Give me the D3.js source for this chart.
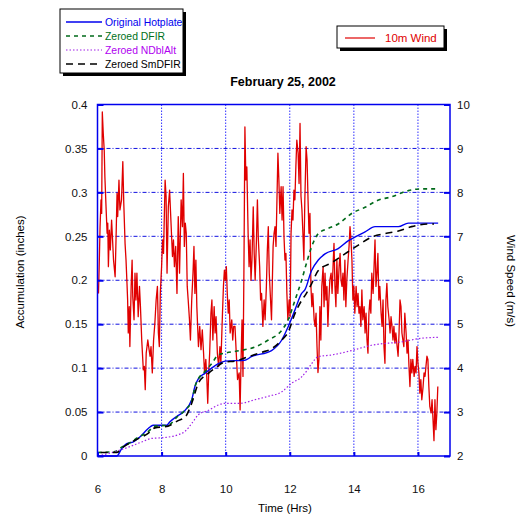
<!DOCTYPE html>
<html lang="en">
<head>
    <meta charset="UTF-8">
    <title>February 25, 2002</title>
    <script src="https://cdn.jsdelivr.net/npm/d3@7/dist/d3.min.js"></script>
    <style>
        body {
            margin: 0;
            background: #fff;
        }

        svg text {
            font-family: "Liberation Sans", Arial, sans-serif;
        }

        .axis path {
            display: none;
        }

        .axis line {
            stroke: #0000ee;
            stroke-width: 2px;
        }

        .axis text {
            font-size: 11.5px;
            fill: #111;
        }
    </style>
</head>
<body>
<svg id="chart" width="520" height="514"></svg>
<script>
    // accumulation series, [hour, inches]
    var hotplate = [[6.0, 0], [6.6, 0], [6.75, 0.008], [6.91, 0.014], [7.12, 0.016], [7.33, 0.022], [7.64, 0.033],
        [7.74, 0.035], [8.16, 0.035], [8.26, 0.039], [8.47, 0.045], [8.68, 0.05], [8.94, 0.064], [9.04, 0.079],
        [9.15, 0.088], [9.35, 0.094], [9.56, 0.1], [9.77, 0.105], [9.98, 0.108], [10.6, 0.109], [10.8, 0.113],
        [11.43, 0.12], [11.75, 0.132], [11.95, 0.147], [12.16, 0.166], [12.37, 0.185], [12.47, 0.189],
        [12.68, 0.211], [12.89, 0.223], [13.1, 0.23], [13.51, 0.236], [13.83, 0.245], [14.03, 0.249],
        [14.35, 0.255], [14.66, 0.261], [15.39, 0.261], [15.7, 0.265], [16.63, 0.265]];

    var dfir = [[6.0, 0.004], [6.55, 0.005], [6.75, 0.01], [6.96, 0.014], [7.17, 0.019], [7.59, 0.028],
        [7.79, 0.034], [8.2, 0.035], [8.5, 0.045], [8.73, 0.052], [8.95, 0.064], [9.05, 0.08], [9.15, 0.088],
        [9.35, 0.096], [9.56, 0.105], [9.77, 0.115], [9.98, 0.117], [10.45, 0.12], [10.91, 0.124],
        [11.33, 0.132], [11.75, 0.143], [11.95, 0.155], [12.16, 0.177], [12.37, 0.2], [12.55, 0.223],
        [12.68, 0.238], [12.89, 0.253], [13.2, 0.259], [13.51, 0.264], [13.93, 0.276], [14.35, 0.283],
        [14.75, 0.291], [15.18, 0.295], [15.7, 0.302], [16.11, 0.304], [16.63, 0.304]];

    var ndblalt = [[6.13, 0.001], [6.55, 0.005], [6.96, 0.01], [7.38, 0.016], [7.69, 0.02], [8.1, 0.021],
        [8.5, 0.024], [8.73, 0.028], [8.94, 0.037], [9.15, 0.047], [9.46, 0.052], [9.77, 0.058], [9.98, 0.06],
        [10.45, 0.06], [10.91, 0.064], [11.33, 0.068], [11.75, 0.073], [12.06, 0.083], [12.37, 0.09],
        [12.55, 0.098], [12.68, 0.105], [12.89, 0.113], [13.31, 0.115], [13.93, 0.12], [14.55, 0.126],
        [15.5, 0.13], [16.11, 0.134], [16.63, 0.135]];

    var smdfir = [[6.1, 0.004], [6.6, 0.004], [6.8, 0.01], [6.96, 0.014], [7.17, 0.018], [7.59, 0.026],
        [7.79, 0.032], [8.2, 0.034], [8.5, 0.04], [8.75, 0.045], [8.94, 0.06], [9.15, 0.083], [9.46, 0.094],
        [9.67, 0.1], [9.98, 0.107], [10.3, 0.108], [10.71, 0.113], [11.12, 0.118], [11.43, 0.122],
        [11.75, 0.132], [11.95, 0.141], [12.16, 0.162], [12.37, 0.177], [12.5, 0.184], [12.68, 0.196],
        [12.89, 0.211], [13.31, 0.22], [13.72, 0.23], [14.14, 0.24], [14.55, 0.249], [14.97, 0.253],
        [15.39, 0.256], [15.8, 0.261], [16.32, 0.264], [16.5, 0.264]];

    // 10m wind, [hour, m/s]
    var wind = [[6.03, 5.70], [6.05, 6.23], [6.08, 7.22], [6.11, 7.83], [6.13, 7.52], [6.15, 9.83], [6.18, 9.34],
        [6.21, 8.96], [6.23, 8.36], [6.27, 7.6], [6.30, 7.07], [6.32, 7.3], [6.34, 6.31], [6.37, 7.14], [6.40, 6.69],
        [6.44, 7.37], [6.47, 6.92], [6.50, 6.46], [6.55, 6.08], [6.58, 6.99], [6.61, 7.98], [6.63, 7.45],
        [6.67, 8.28], [6.70, 7.6], [6.75, 7.83], [6.79, 8.7], [6.82, 7.75], [6.86, 6.84], [6.89, 6.46],
        [6.92, 5.93], [6.94, 5.55], [6.96, 4.8], [6.99, 5.4], [7.01, 4.49], [7.05, 5.86], [7.08, 6.46],
        [7.10, 5.63], [7.14, 5.1], [7.17, 6.16], [7.20, 5.55], [7.23, 6.16], [7.27, 5.17], [7.31, 5.86],
        [7.34, 5.4], [7.38, 4.64], [7.43, 3.96], [7.46, 4.04], [7.49, 3.51], [7.52, 4.34], [7.57, 4.64],
        [7.61, 4.42], [7.64, 4.27], [7.67, 4.49], [7.71, 3.89], [7.75, 4.64], [7.79, 5.02], [7.83, 5.55],
        [7.87, 5.86], [7.90, 4.8], [7.93, 4.49], [7.96, 5.7], [8.00, 6.31], [8.03, 6.92], [8.06, 6.61],
        [8.11, 8.28], [8.14, 7.91], [8.17, 6.16], [8.21, 7.67], [8.25, 8.05], [8.29, 7.37], [8.34, 6.54],
        [8.37, 6.92], [8.40, 6.31], [8.44, 6.77], [8.48, 5.70], [8.52, 7.45], [8.56, 6.16], [8.61, 7.83],
        [8.65, 7.22], [8.68, 8.43], [8.71, 6.77], [8.74, 7.3], [8.77, 7.07], [8.80, 5.86], [8.83, 5.55],
        [8.87, 5.1], [8.90, 4.64], [8.94, 5.55], [8.98, 6.16], [9.01, 6.77], [9.04, 5.70], [9.07, 6.46],
        [9.10, 5.4], [9.15, 4.49], [9.19, 4.95], [9.23, 4.42], [9.27, 4.87], [9.31, 4.34], [9.34, 3.89],
        [9.38, 4.2], [9.41, 3.81], [9.44, 3.2], [9.47, 3.89], [9.50, 4.34], [9.54, 5.25], [9.57, 5.55],
        [9.60, 4.64], [9.64, 5.4], [9.67, 4.8], [9.70, 5.17], [9.74, 4.34], [9.78, 4.04], [9.82, 4.49],
        [9.85, 4.11], [9.90, 5.25], [9.93, 5.86], [9.96, 6.23], [9.99, 6.0], [10.02, 6.31], [10.05, 5.70],
        [10.08, 5.25], [10.11, 5.55], [10.14, 4.8], [10.19, 5.1], [10.22, 4.64], [10.25, 4.95],
        [10.29, 4.95], [10.33, 4.34], [10.37, 3.74], [10.42, 3.89], [10.45, 3.05], [10.48, 4.2], [10.51, 5.1],
        [10.54, 3.81], [10.57, 6.31], [10.60, 9.49], [10.63, 8.28], [10.66, 8.58], [10.70, 7.07], [10.73, 6.31],
        [10.76, 6.92], [10.79, 6.0], [10.82, 6.46], [10.86, 7.67], [10.89, 6.61], [10.92, 6.0], [10.96, 6.92],
        [10.99, 7.83], [11.02, 6.92], [11.06, 6.31], [11.09, 5.55], [11.12, 5.70], [11.16, 4.95], [11.20, 5.55],
        [11.23, 5.1], [11.27, 5.86], [11.30, 6.69], [11.33, 7.22], [11.36, 6.16], [11.40, 5.55], [11.43, 5.1],
        [11.48, 6.77], [11.51, 7.07], [11.54, 7.22], [11.57, 6.77], [11.60, 7.83], [11.63, 8.89], [11.66, 8.28],
        [11.69, 7.52], [11.73, 8.13], [11.76, 7.37], [11.79, 8.13], [11.82, 6.99], [11.85, 6.46], [11.88, 6.61],
        [11.91, 5.70], [11.94, 5.1], [11.98, 5.55], [12.01, 5.17], [12.04, 7.07], [12.07, 7.6], [12.10, 7.37],
        [12.13, 8.05], [12.16, 7.83], [12.19, 8.58], [12.22, 9.19], [12.26, 8.89], [12.29, 8.2], [12.32, 9.57],
        [12.35, 7.91], [12.38, 7.6], [12.41, 7.07], [12.44, 6.46], [12.47, 7.83], [12.51, 9.04], [12.54, 8.73],
        [12.57, 7.83], [12.60, 7.07], [12.63, 7.52], [12.66, 5.86], [12.69, 5.4], [12.72, 5.70], [12.76, 5.1],
        [12.79, 4.95], [12.82, 5.25], [12.85, 4.49], [12.88, 3.9], [12.91, 4.2], [12.94, 5.4], [12.97, 4.64],
        [13.00, 5.86], [13.04, 6.31], [13.07, 5.4], [13.10, 6.16], [13.13, 5.55], [13.16, 5.86], [13.19, 4.95],
        [13.22, 5.55], [13.25, 6.0], [13.29, 6.16], [13.32, 5.70], [13.35, 6.31], [13.38, 6.84], [13.41, 5.86],
        [13.44, 5.4], [13.47, 6.46], [13.50, 5.70], [13.54, 6.31], [13.57, 6.61], [13.60, 6.0], [13.63, 5.86],
        [13.66, 6.16], [13.69, 5.55], [13.72, 6.46], [13.75, 5.4], [13.78, 6.0], [13.82, 6.46], [13.85, 6.77],
        [13.88, 7.22], [13.91, 6.92], [13.94, 6.46], [13.97, 5.55], [14.00, 5.86], [14.03, 5.25], [14.07, 5.86],
        [14.10, 5.4], [14.13, 5.70], [14.16, 5.25], [14.19, 5.4], [14.22, 4.95], [14.25, 5.78], [14.28, 5.1],
        [14.32, 5.4], [14.35, 4.8], [14.38, 5.25], [14.41, 4.64], [14.44, 4.34], [14.47, 5.25], [14.50, 5.55],
        [14.53, 5.25], [14.56, 6.16], [14.60, 5.70], [14.63, 6.31], [14.66, 6.92], [14.69, 5.86], [14.72, 6.16],
        [14.75, 6.61], [14.78, 5.55], [14.81, 5.86], [14.85, 5.25], [14.88, 4.95], [14.91, 5.55], [14.94, 4.49],
        [14.97, 4.11], [15.00, 5.55], [15.03, 5.93], [15.06, 5.4], [15.10, 5.1], [15.13, 4.8], [15.16, 5.17],
        [15.19, 4.95], [15.22, 4.64], [15.25, 4.95], [15.28, 4.57], [15.31, 4.8], [15.34, 4.57], [15.38, 4.27],
        [15.41, 4.8], [15.44, 5.55], [15.47, 5.4], [15.50, 4.8], [15.53, 4.64], [15.56, 4.49], [15.59, 5.25],
        [15.63, 4.8], [15.66, 4.34], [15.69, 4.64], [15.72, 4.04], [15.75, 3.58], [15.78, 4.2], [15.81, 3.89],
        [15.84, 4.2], [15.88, 3.81], [15.91, 4.04], [15.94, 3.89], [15.97, 4.49], [16.00, 4.11], [16.03, 3.89],
        [16.06, 3.43], [16.09, 3.74], [16.12, 3.28], [16.16, 3.58], [16.19, 3.89], [16.22, 3.81], [16.25, 4.04],
        [16.28, 4.27], [16.31, 4.2], [16.34, 3.58], [16.37, 3.13], [16.41, 2.98], [16.44, 3.28], [16.47, 2.83],
        [16.50, 2.35], [16.53, 3.28], [16.56, 2.6], [16.59, 2.98], [16.62, 3.58]];

    var hourTicks = [6, 8, 10, 12, 14, 16];
    var accTicks = [0, 0.05, 0.1, 0.15, 0.2, 0.25, 0.3, 0.35, 0.4];
    var windTicks = [2, 3, 4, 5, 6, 7, 8, 9, 10];

    var seriesNames = ["Original Hotplate", "Zeroed DFIR", "Zeroed NDblAlt", "Zeroed SmDFIR"];

    var svg = d3.select("#chart");

    var plotLeft = 97.5, plotRight = 450, plotTop = 104.5, plotBottom = 456;

    var x = d3.scaleLinear().domain([6, 17]).range([plotLeft, plotRight]);
    var y = d3.scaleLinear().domain([0, 0.4]).range([plotBottom, plotTop]);
    var y2 = d3.scaleLinear().domain([2, 10]).range([plotBottom, plotTop]);

    // grid
    var grid = svg.append("g").attr("class", "grid");
    grid.selectAll("line.h")
            .data(accTicks.slice(1, -1))
            .enter().append("line")
            .attr("class", "h")
            .attr("x1", plotLeft).attr("x2", plotRight)
            .attr("y1", function (d) { return y(d); })
            .attr("y2", function (d) { return y(d); })
            .attr("stroke", "#1010e0")
            .attr("stroke-width", 1)
            .attr("stroke-dasharray", "4,2,1,2");
    grid.selectAll("line.v")
            .data(hourTicks.slice(1))
            .enter().append("line")
            .attr("class", "v")
            .attr("y1", plotTop).attr("y2", plotBottom)
            .attr("x1", function (d) { return x(d); })
            .attr("x2", function (d) { return x(d); })
            .attr("stroke", "#3030ff")
            .attr("stroke-width", 1)
            .attr("stroke-dasharray", "1.5,1.5");

    // wind
    var windLine = d3.line()
            .x(function (d) { return x(d[0]); })
            .y(function (d) { return y2(d[1]); });

    svg.append("path")
            .datum(wind)
            .attr("fill", "none")
            .attr("stroke", "#e00000")
            .attr("stroke-width", 1.3)
            .attr("stroke-linejoin", "round")
            .attr("d", windLine);

    // accumulation
    var accLine = d3.line()
            .curve(d3.curveMonotoneX)
            .x(function (d) { return x(d[0]); })
            .y(function (d) { return y(d[1]); });

    var styles = [
        {data: hotplate, color: "#0000ee", dash: null, width: 1.4, text: "#0000ee"},
        {data: dfir, color: "#006a1a", dash: "4,4", width: 1.6, text: "#00701a"},
        {data: ndblalt, color: "#a020e8", dash: "1.5,2", width: 1.2, text: "#b000f0"},
        {data: smdfir, color: "#000", dash: "7,5", width: 1.6, text: "#000"}
    ];

    styles.forEach(function (s) {
        svg.append("path")
                .datum(s.data)
                .attr("fill", "none")
                .attr("stroke", s.color)
                .attr("stroke-width", s.width)
                .attr("stroke-dasharray", s.dash)
                .attr("d", accLine);
    });

    // frame
    svg.append("rect")
            .attr("x", plotLeft).attr("y", plotTop)
            .attr("width", plotRight - plotLeft).attr("height", plotBottom - plotTop)
            .attr("fill", "none")
            .attr("stroke", "#0000ee")
            .attr("stroke-width", 1.5);

    // axes
    var fmt = function (d) { return String(+d.toFixed(2)); };

    svg.append("g")
            .attr("class", "axis")
            .attr("transform", "translate(" + plotLeft + ",0)")
            .call(d3.axisLeft(y).tickValues(accTicks).tickFormat(fmt).tickSize(-6).tickPadding(10));

    svg.append("g")
            .attr("class", "axis")
            .attr("transform", "translate(" + plotRight + ",0)")
            .call(d3.axisRight(y2).tickValues(windTicks).tickFormat(d3.format("d")).tickSize(-6).tickPadding(7));

    svg.append("g")
            .attr("class", "axis")
            .attr("transform", "translate(0," + plotBottom + ")")
            .call(d3.axisBottom(x).tickValues(hourTicks).tickSize(-4).tickPadding(29));

    // titles
    svg.append("text")
            .attr("x", 283).attr("y", 86)
            .attr("text-anchor", "middle")
            .attr("font-size", "12.5px")
            .attr("font-weight", "bold")
            .text("February 25, 2002");

    svg.append("text")
            .attr("x", 285).attr("y", 512)
            .attr("text-anchor", "middle")
            .attr("font-size", "11.5px")
            .text("Time (Hrs)");

    svg.append("text")
            .attr("transform", "translate(24,272) rotate(-90)")
            .attr("text-anchor", "middle")
            .attr("font-size", "11.5px")
            .text("Accumulation (inches)");

    svg.append("text")
            .attr("transform", "translate(507,281) rotate(90)")
            .attr("text-anchor", "middle")
            .attr("font-size", "11.5px")
            .text("Wind Speed (m/s)");

    // legend, accumulation
    var lg = svg.append("g").attr("transform", "translate(60,9)");
    lg.append("rect").attr("x", 3).attr("y", 3).attr("width", 123).attr("height", 64).attr("fill", "#000");
    lg.append("rect").attr("width", 123).attr("height", 64).attr("fill", "#fff").attr("stroke", "#000");

    var item = lg.selectAll("g.item")
            .data(styles)
            .enter().append("g")
            .attr("class", "item")
            .attr("transform", function (d, i) { return "translate(0," + (13 + i * 14) + ")"; });
    item.append("line")
            .attr("x1", 6).attr("x2", 42)
            .attr("stroke", function (d) { return d.color; })
            .attr("stroke-width", function (d) { return d.width; })
            .attr("stroke-dasharray", function (d) { return d.dash; });
    item.append("text")
            .attr("x", 45).attr("y", 4)
            .attr("font-size", "10.4px")
            .attr("fill", function (d) { return d.text; })
            .text(function (d, i) { return seriesNames[i]; });

    // legend, wind
    var lw = svg.append("g").attr("transform", "translate(337,26)");
    lw.append("rect").attr("x", 3).attr("y", 3).attr("width", 107).attr("height", 22).attr("fill", "#000");
    lw.append("rect").attr("width", 107).attr("height", 22).attr("fill", "#fff").attr("stroke", "#000");
    lw.append("line")
            .attr("x1", 8).attr("x2", 38).attr("y1", 12).attr("y2", 12)
            .attr("stroke", "#e00000").attr("stroke-width", 1.2);
    lw.append("text")
            .attr("x", 48).attr("y", 16)
            .attr("font-size", "11.5px")
            .attr("fill", "#e00000")
            .text("10m Wind");
</script>
</body>
</html>
